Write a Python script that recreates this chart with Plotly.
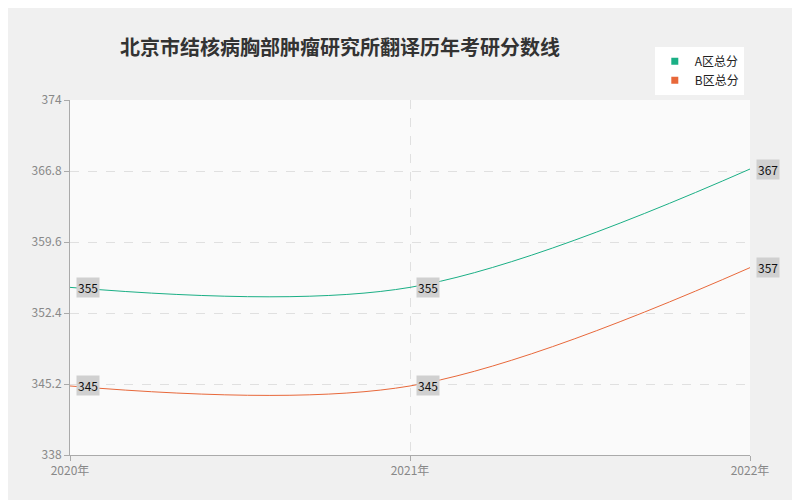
import plotly.graph_objects as go

years = ["2020年", "2021年", "2022年"]
a_vals = [355, 355, 367]
b_vals = [345, 345, 357]
y_ticks = [338, 345.2, 352.4, 359.6, 366.8, 374]

fig = go.Figure()
for name, vals, color in [("A区总分", a_vals, "#1aaf85"), ("B区总分", b_vals, "#e8683a")]:
    fig.add_trace(go.Scatter(
        x=[0, 1, 2], y=vals, name=name, mode="lines",
        line=dict(color=color, width=1, shape="spline", smoothing=1.0),
        showlegend=False,
    ))
    fig.add_trace(go.Scatter(x=[None], y=[None], name=name, mode="markers",
                             marker=dict(symbol="square", size=7, color=color)))
    for i, v in enumerate(vals):
        fig.add_annotation(x=i, y=v, text=str(v), showarrow=False, xanchor="left",
                           xshift=6, font=dict(size=12, color="#111"),
                           bgcolor="#d0d0d0", borderpad=1)

fig.update_layout(
    width=800, height=500,
    paper_bgcolor="#f0f0f0", plot_bgcolor="#fafafa",
    margin=dict(l=62, r=58, t=92, b=53),
    title=dict(text="<b>北京市结核病胸部肿瘤研究所翻译历年考研分数线</b>", x=0.14, xanchor="left", y=0.935,
               font=dict(size=20, color="#333", family="Noto Sans CJK SC")),
    font=dict(family="Noto Sans CJK SC", color="#888"),
    legend=dict(x=0.86, y=1.15, xanchor="left", yanchor="top", bgcolor="#ffffff",
                font=dict(size=12, color="#222"), itemwidth=30),
)
fig.update_xaxes(range=[0, 2], tickvals=[0, 1, 2], ticktext=years, showgrid=True,
                 gridcolor="#e0e0e0", griddash="dash", zeroline=False,
                 showline=True, linecolor="#aaa", ticks="outside", tickcolor="#aaa")
fig.update_yaxes(range=[338, 374], tickvals=y_ticks, ticktext=[str(t) for t in y_ticks],
                 showgrid=True, gridcolor="#e0e0e0", griddash="dash", zeroline=False,
                 showline=True, linecolor="#aaa", ticks="outside", tickcolor="#aaa")
fig.write_html("out.html")
